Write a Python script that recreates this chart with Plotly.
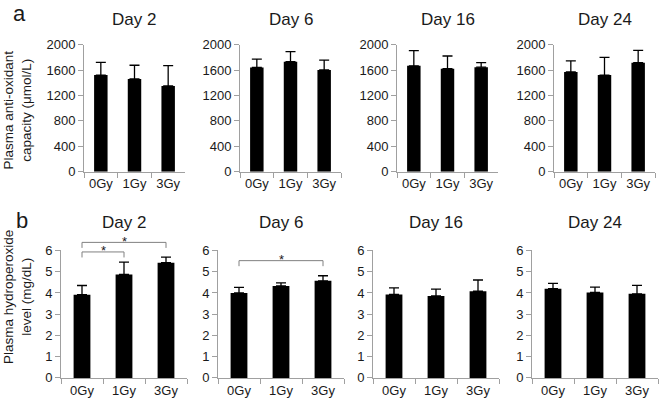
import plotly.graph_objects as go

# ---------------- data ----------------
days = ["Day 2", "Day 6", "Day 16", "Day 24"]
doses = ["0Gy", "1Gy", "3Gy"]

antiox_mean = [
    [1520, 1460, 1350],
    [1640, 1730, 1600],
    [1665, 1620, 1645],
    [1570, 1520, 1715],
]
antiox_err = [
    [200, 215, 320],
    [130, 160, 155],
    [240, 200, 70],
    [175, 280, 195],
]

hydro_mean = [
    [3.92, 4.87, 5.42],
    [4.00, 4.33, 4.57],
    [3.93, 3.86, 4.08],
    [4.20, 4.02, 3.96],
]
hydro_err = [
    [0.43, 0.58, 0.27],
    [0.26, 0.14, 0.24],
    [0.31, 0.32, 0.53],
    [0.25, 0.25, 0.40],
]

antiox_ticks = [0, 400, 800, 1200, 1600, 2000]
hydro_ticks = [0, 1, 2, 3, 4, 5, 6]

# significance brackets: (panel index in row b, from dose, to dose, bracket height)
sig_panel = [0, 0, 1]
sig_from = ["0Gy", "0Gy", "0Gy"]
sig_to = ["3Gy", "1Gy", "3Gy"]
sig_height = [6.38, 5.93, 5.52]
sig_label = ["*", "*", "*"]

# ---------------- layout geometry ----------------
W, H = 660, 410
top_x = [(84, 185), (240, 341), (397, 498), (554, 655)]
bot_x = [(61, 187), (218, 344), (373, 499), (532, 658)]
top_y = (39, 171)
bot_y = (252.7, 385)

FONT = "Liberation Sans, Arial, sans-serif"
AXCOL = "#a0a0a0"
TXT = "#1a1a1a"


def xdom(px):
    return [px[0] / W, px[1] / W]


def ydom(py):
    return [1 - py[1] / H, 1 - py[0] / H]


fig = go.Figure()
layout = dict(
    width=W, height=H,
    margin=dict(l=0, r=0, t=0, b=0),
    paper_bgcolor="white", plot_bgcolor="white",
    showlegend=False,
    bargap=0.6,
    font=dict(family=FONT, size=13, color=TXT),
)
annotations = []
shapes = []

for row in range(2):
    means = antiox_mean if row == 0 else hydro_mean
    errs = antiox_err if row == 0 else hydro_err
    ticks = antiox_ticks if row == 0 else hydro_ticks
    xs = top_x if row == 0 else bot_x
    ys = top_y if row == 0 else bot_y
    for i in range(4):
        k = row * 4 + i + 1
        xa = "x" if k == 1 else f"x{k}"
        ya = "y" if k == 1 else f"y{k}"
        fig.add_trace(go.Bar(
            x=doses, y=means[i],
            marker=dict(color="black", line=dict(width=0)),
            error_y=dict(type="data", symmetric=False, array=errs[i],
                         arrayminus=[0] * len(doses), color="black",
                         thickness=1.3, width=5),
            xaxis=xa, yaxis=ya,
        ))
        xkey = "xaxis" if k == 1 else f"xaxis{k}"
        ykey = "yaxis" if k == 1 else f"yaxis{k}"
        layout[xkey] = dict(
            domain=xdom(xs[i]), anchor=ya, type="category",
            showline=True, linecolor=AXCOL, linewidth=1,
            ticks="outside", tickson="boundaries", ticklen=5, tickcolor=AXCOL,
            showgrid=False, zeroline=False,
            tickfont=dict(family=FONT, size=13, color=TXT),
            fixedrange=True,
        )
        layout[ykey] = dict(
            domain=ydom(ys), anchor=xa,
            range=[ticks[0], ticks[-1]], tickvals=ticks,
            showline=True, linecolor=AXCOL, linewidth=1,
            ticks="outside", ticklen=5, tickcolor=AXCOL,
            showgrid=False, zeroline=False,
            tickfont=dict(family=FONT, size=13, color=TXT),
            fixedrange=True,
        )
        # panel title
        annotations.append(dict(
            text=days[i], xref=f"{xa} domain", x=0.5, yref="paper",
            y=(1 - 13 / H) if row == 0 else (1 - 224 / H),
            xanchor="center", yanchor="middle", showarrow=False,
            font=dict(family=FONT, size=17, color=TXT),
        ))

# y axis titles
annotations.append(dict(
    text="Plasma anti-oxidant<br>capacity (μmol/L)", textangle=-90,
    xref="paper", yref="paper", x=17.5 / W, y=1 - 107 / H,
    xanchor="center", yanchor="middle", showarrow=False,
    font=dict(family=FONT, size=13.5, color=TXT),
))
annotations.append(dict(
    text="Plasma hydroperoxide<br>level (mg/dL)", textangle=-90,
    xref="paper", yref="paper", x=17.5 / W, y=1 - 301.5 / H,
    xanchor="center", yanchor="middle", showarrow=False,
    font=dict(family=FONT, size=13.5, color=TXT),
))
# panel letters
annotations.append(dict(text="a", xref="paper", yref="paper", x=19 / W, y=1 - 7 / H,
                        xanchor="center", yanchor="middle", showarrow=False,
                        font=dict(family=FONT, size=22, color=TXT)))
annotations.append(dict(text="b", xref="paper", yref="paper", x=22 / W, y=1 - 222 / H,
                        xanchor="center", yanchor="middle", showarrow=False,
                        font=dict(family=FONT, size=22, color=TXT)))

# significance brackets (positions derived from category index and value)
ymax = hydro_ticks[-1]
leg = 0.26
for p, a, b, h, lab in zip(sig_panel, sig_from, sig_to, sig_height, sig_label):
    k = 4 + p + 1
    xr = f"x{k} domain"
    yr = f"y{k} domain"
    xa_f = (doses.index(a) + 0.5) / len(doses)
    xb_f = (doses.index(b) + 0.5) / len(doses)
    yh = h / ymax
    yl = (h - leg) / ymax
    shapes.append(dict(
        type="path", xref=xr, yref=yr,
        path=f"M {xa_f},{yl} L {xa_f},{yh} L {xb_f},{yh} L {xb_f},{yl}",
        line=dict(color="#808080", width=1),
    ))
    annotations.append(dict(
        text=lab, xref=xr, yref=yr, x=(xa_f + xb_f) / 2, y=yh,
        xanchor="center", yanchor="middle", yshift=1, showarrow=False,
        font=dict(family=FONT, size=13, color=TXT),
    ))

layout["annotations"] = annotations
layout["shapes"] = shapes
fig.update_layout(**layout)

fig.write_html(
    "out.html",
    config={"displayModeBar": False},
    post_script="document.body.style.margin='0';document.body.style.padding='0';",
)
